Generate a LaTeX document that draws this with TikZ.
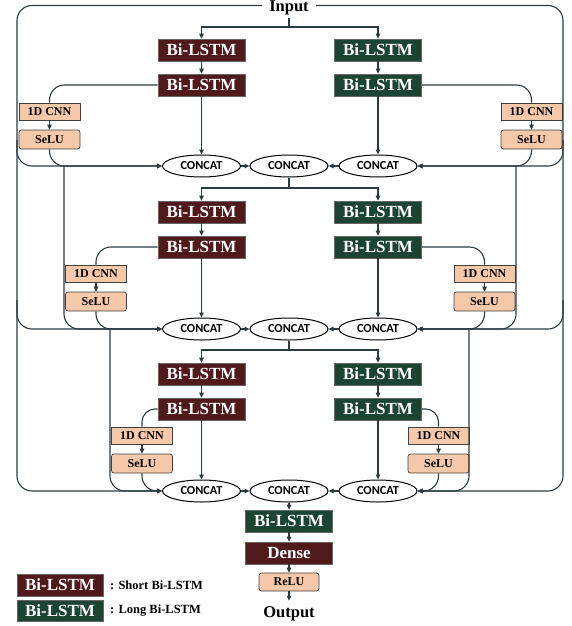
\documentclass[tikz,border=0pt]{standalone}
\usepackage{fontspec}
\setmainfont{Liberation Serif}
\newfontfamily\cfont{Carlito}
\usetikzlibrary{shapes.geometric,arrows.meta}
\definecolor{shortc}{RGB}{80,26,28}
\definecolor{longc}{RGB}{28,68,50}
\definecolor{peach}{RGB}{246,200,170}
\definecolor{lnc}{RGB}{45,58,64}
\begin{document}
\begin{tikzpicture}[x=1pt,y=-1pt,
  ln/.style={draw=lnc, line width=1.1pt},
  ar/.style={ln, -{Triangle[length=5pt,width=4.5pt]}},
  rc/.style={rounded corners=15pt},
  bl/.style={draw=black!60, line width=0.7pt, minimum width=87pt, minimum height=22pt, inner sep=0pt, text=white, font=\bfseries\fontsize{17}{17}\selectfont},
  shortbox/.style={bl, fill=shortc},
  longbox/.style={bl, fill=longc},
  cnnbox/.style={draw=black!75, line width=0.7pt, fill=peach, minimum width=61pt, minimum height=17pt, inner sep=0pt, font=\bfseries\fontsize{12}{12}\selectfont},
  selubox/.style={cnnbox, minimum height=19pt, rounded corners=2.5pt},
  concat/.style={ellipse, draw=black, line width=1pt, fill=white, minimum width=78pt, minimum height=22pt, inner sep=0pt, font=\cfont\bfseries\fontsize{12.3}{12}\selectfont},
  bigtext/.style={font=\bfseries\fontsize{16.5}{17}\selectfont, text height=12pt, text depth=0pt},
]
\useasboundingbox (0,0) rectangle (572,626);

\node[bigtext, inner xsep=7pt, inner ysep=0pt] (inp) at (289,5.5) {Input};

% level 1
\node[shortbox] (s11) at (201.5,50) {Bi-LSTM};
\node[shortbox] (s12) at (201.5,85) {Bi-LSTM};
\node[longbox] (l11) at (378,50) {Bi-LSTM};
\node[longbox] (l12) at (378,85) {Bi-LSTM};
\node[cnnbox] (cl1) at (49.5,111.5) {1D CNN};
\node[selubox] (el1) at (49.5,139.5) {SeLU};
\node[cnnbox] (cr1) at (531.5,111.5) {1D CNN};
\node[selubox] (er1) at (531.5,139.5) {SeLU};
\node[concat] (kl1) at (201.5,166) {CONCAT};
\node[concat] (km1) at (289,166) {CONCAT};
\node[concat] (kr1) at (378,166) {CONCAT};

% level 2
\node[shortbox] (s21) at (201.5,212) {Bi-LSTM};
\node[shortbox] (s22) at (201.5,247) {Bi-LSTM};
\node[longbox] (l21) at (378,212) {Bi-LSTM};
\node[longbox] (l22) at (378,247) {Bi-LSTM};
\node[cnnbox] (cl2) at (96,273.5) {1D CNN};
\node[selubox] (el2) at (96,301.5) {SeLU};
\node[cnnbox] (cr2) at (484.5,273.5) {1D CNN};
\node[selubox] (er2) at (484.5,301.5) {SeLU};
\node[concat] (kl2) at (201.5,329) {CONCAT};
\node[concat] (km2) at (289,329) {CONCAT};
\node[concat] (kr2) at (378,329) {CONCAT};

% level 3
\node[shortbox] (s31) at (201.5,374) {Bi-LSTM};
\node[shortbox] (s32) at (201.5,409) {Bi-LSTM};
\node[longbox] (l31) at (378,374) {Bi-LSTM};
\node[longbox] (l32) at (378,409) {Bi-LSTM};
\node[cnnbox] (cl3) at (142,435.5) {1D CNN};
\node[selubox] (el3) at (142,463.5) {SeLU};
\node[cnnbox] (cr3) at (438.5,435.5) {1D CNN};
\node[selubox] (er3) at (438.5,463.5) {SeLU};
\node[concat] (kl3) at (201.5,491) {CONCAT};
\node[concat] (km3) at (289,491) {CONCAT};
\node[concat] (kr3) at (378,491) {CONCAT};

% output stack
\node[longbox] (fb) at (289,521) {Bi-LSTM};
\node[shortbox] (dn) at (289,553) {Dense};
\node[selubox, minimum width=60pt, minimum height=18pt] (rl) at (289,582) {ReLU};
\node[bigtext, text height=11pt, inner ysep=5pt] (out) at (289,611.5) {Output};

% legend
\node[shortbox, minimum width=86pt] (lg1) at (60,585) {Bi-LSTM};
\node[longbox, minimum width=86pt, minimum height=21pt] (lg2) at (60,610.5) {Bi-LSTM};
\node[anchor=west, inner sep=0pt, font=\bfseries\fontsize{12.5}{12}\selectfont] (lt1) at (110,585) {: Short Bi-LSTM};
\node[anchor=west, inner sep=0pt, font=\bfseries\fontsize{12.5}{12}\selectfont] (lt2) at (110,610.5) {: Long Bi-LSTM};

% split points and junctions
\coordinate (sp1) at (289,27);
\coordinate (sp2) at (289,188);
\coordinate (sp3) at (289,350);
\coordinate (ol1) at (17,140);
\coordinate (ol2) at (17,300);
\coordinate (or1) at (563,140);
\coordinate (or2) at (563,300);
\coordinate (jl1) at (64,166);
\coordinate (jl2) at (110,329);
\coordinate (jr1) at (516,166);
\coordinate (jr2) at (469,329);

% input distribution
\draw[ln, shorten <=6pt] (inp.south) -- (sp1);
\draw[ar] (sp1) -| (s11.north);
\draw[ar] (sp1) -| (l11.north);
\draw[ar, rc] (inp.west) -| (17,491) -- (kl3.west);
\draw[ar, rc] (inp.east) -| (563,491) -- (kr3.east);
\draw[ar, rc] (ol1) |- (kl1.west);
\draw[ar, rc] (ol2) |- (kl2.west);
\draw[ar, rc] (or1) |- (kr1.east);
\draw[ar, rc] (or2) |- (kr2.east);
\draw[ar, rc] (jl1) |- (kl2.west);
\draw[ar, rc] (jl2) |- (kl3.west);
\draw[ar, rc] (jr1) |- (kr2.east);
\draw[ar, rc] (jr2) |- (kr3.east);

% per-level connections
\foreach \i/\sp in {1/sp1,2/sp2,3/sp3}{
  \draw[ar] (s\i1) -- (s\i2);
  \draw[ar] (l\i1) -- (l\i2);
  \draw[ar] (s\i2) -- (kl\i);
  \draw[ar] (l\i2) -- (kr\i);
  \draw[ar] (cl\i) -- (el\i);
  \draw[ar] (cr\i) -- (er\i);
  \draw[ar] (kl\i) -- (km\i);
  \draw[ar] (kr\i) -- (km\i);
  \draw[ar, rc] (el\i.south) |- (kl\i.west);
  \draw[ar, rc] (er\i.south) |- (kr\i.east);
}
\draw[ln, rc] (s12.west) -| (cl1.north);
\draw[ln, rc] (s22.west) -| (cl2.north);
\draw[ln, rounded corners=13pt] (s32.west) -| (cl3.north);
\draw[ln, rc] (l12.east) -| (cr1.north);
\draw[ln, rc] (l22.east) -| (cr2.north);
\draw[ln, rounded corners=13pt] (l32.east) -| (cr3.north);

% between levels
\draw[ln] (km1) -- (sp2);
\draw[ar] (sp2) -| (s21.north);
\draw[ar] (sp2) -| (l21.north);
\draw[ln] (km2) -- (sp3);
\draw[ar] (sp3) -| (s31.north);
\draw[ar] (sp3) -| (l31.north);

% output stack
\draw[ar] (km3) -- (fb);
\draw[ar] (fb) -- (dn);
\draw[ar] (dn) -- (rl);
\draw[ar] (rl) -- (out);
\end{tikzpicture}
\end{document}
